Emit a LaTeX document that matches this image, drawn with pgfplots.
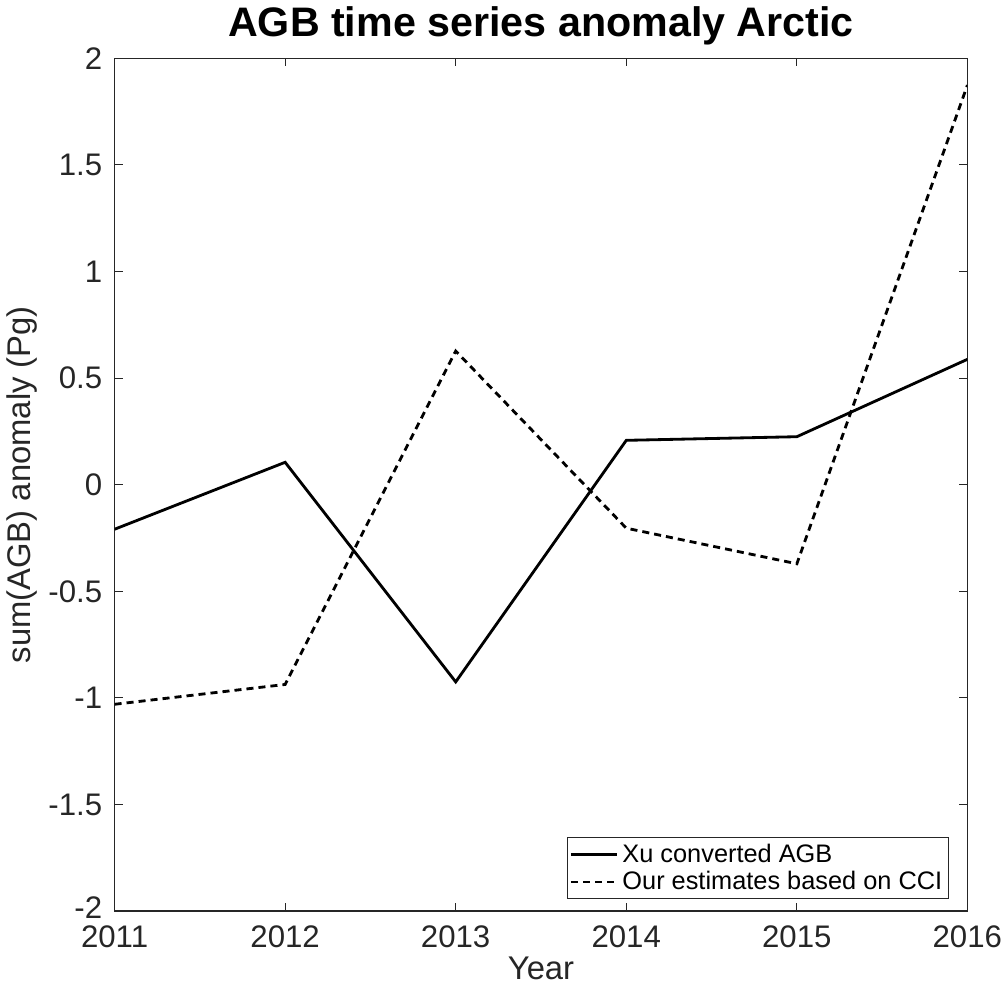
\documentclass[border=0pt]{standalone}
\usepackage{pgfplots}
\pgfplotsset{compat=1.18}
\usepackage{fontspec}
\setmainfont{Liberation Sans}
\definecolor{axgray}{HTML}{262626}
\begin{document}
\begin{tikzpicture}
\begin{axis}[
  scale only axis,
  width=424pt, height=424pt,
  xmin=2011, xmax=2016, ymin=-2, ymax=2,
  xtick={2011,2012,...,2016},
  ytick={-2,-1.5,...,2},
  /pgf/number format/assume math mode=true,
  xticklabel style={/pgf/number format/1000 sep={}, font=\fontsize{15.5}{17}\selectfont, text=axgray, inner sep=0pt, yshift=-7pt},
  yticklabel style={font=\fontsize{15.5}{17}\selectfont, text=axgray, inner sep=0pt, xshift=-6pt},
  yticklabel={\pgfmathparse{\tick<-1.9 ? 1 : 0}\ifdim\pgfmathresult pt>0.5pt\raisebox{3pt}{\pgfmathprintnumber{\tick}}\else\pgfmathprintnumber{\tick}\fi},
  axis line style={axgray, line width=0.6pt},
  tick style={axgray, line width=0.5pt},
  major tick length=4pt,
  tick align=inside,
  xlabel={Year}, ylabel={sum(AGB) anomaly (Pg)},
  label style={font=\fontsize{16.3}{18}\selectfont, text=axgray},
  xlabel style={yshift=-1pt},
  ylabel style={yshift=2pt},
  title={\textbf{AGB time series anomaly Arctic}},
  title style={font=\fontsize{20.5}{23}\selectfont, yshift=-3pt},
  legend style={at={(0.978,0.014)}, anchor=south east, draw=axgray, line width=0.4pt,
    font=\fontsize{12.6}{14}\selectfont, inner sep=1pt, row sep=-1pt, cells={anchor=west}},
  legend image code/.code={\draw[#1, line width=1.2pt] (0pt,0pt) -- (23pt,0pt);},
]
\addplot[black, line width=1.4pt] coordinates {
 (2011,-0.209) (2012,0.105) (2013,-0.925) (2014,0.208) (2015,0.225) (2016,0.588)};
\addlegendentry{Xu converted AGB}
\addplot[black, line width=1.4pt, dash pattern=on 3.5pt off 2.5pt] coordinates {
 (2011,-1.03) (2012,-0.937) (2013,0.627) (2014,-0.204) (2015,-0.371) (2016,1.874)};
\addlegendentry{Our estimates based on CCI}
\end{axis}
\end{tikzpicture}
\end{document}
